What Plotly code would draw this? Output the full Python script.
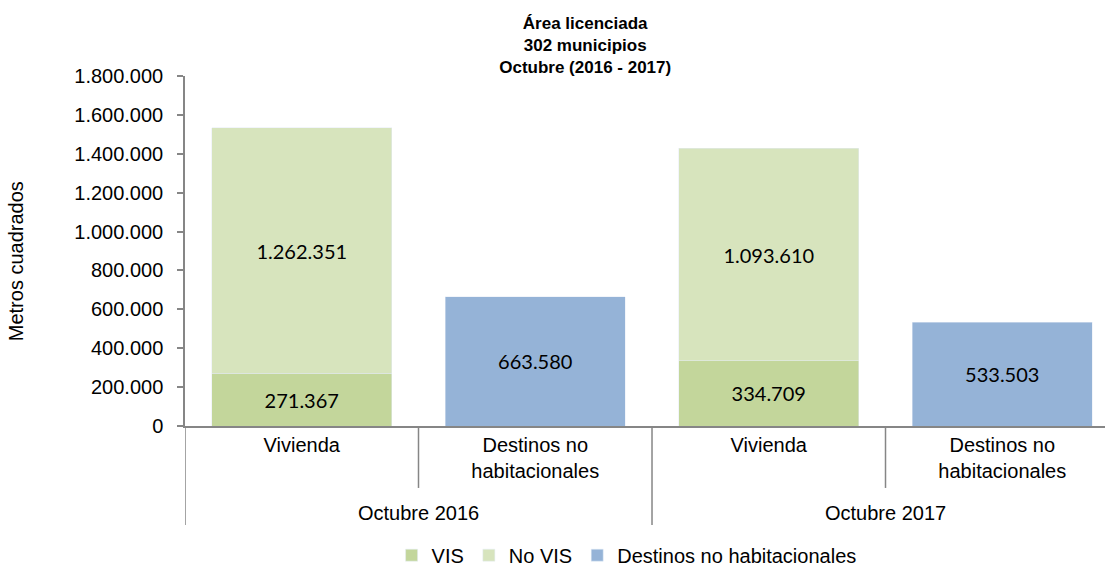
import plotly.graph_objects as go

# ---- data ----
groups = ["Octubre 2016", "Octubre 2017"]
categories = ["Vivienda", "Destinos no<br>habitacionales", "Vivienda", "Destinos no<br>habitacionales"]
vis_values = [271367, None, 334709, None]
novis_values = [1262351, None, 1093610, None]
destinos_values = [None, 663580, None, 533503]
y_ticks = [0, 200000, 400000, 600000, 800000, 1000000, 1200000, 1400000, 1600000, 1800000]

x_pos = list(range(len(categories)))

FONT = "Liberation Sans, Arial, sans-serif"
LABEL_FONT = "Lato, Open Sans, sans-serif"
GRAY = "#868686"

fig = go.Figure()
common = dict(width=0.77, textposition="inside", insidetextanchor="middle",
              textangle=0, texttemplate="%{y:,d}",
              textfont=dict(family=LABEL_FONT, size=20, color="#000000"))
fig.add_trace(go.Bar(name="VIS", x=x_pos, y=vis_values, marker_color="#C3D69B", **common))
fig.add_trace(go.Bar(name="No VIS", x=x_pos, y=novis_values, marker_color="#D7E4BD", **common))
fig.add_trace(go.Bar(name="Destinos no habitacionales", x=x_pos, y=destinos_values,
                     marker_color="#95B3D7", **common))

fig.update_layout(
    barmode="stack",
    width=1109, height=571,
    separators=",.",
    paper_bgcolor="white", plot_bgcolor="white",
    margin=dict(l=185, r=4, t=76, b=145, autoexpand=False),
    font=dict(family=FONT, size=20, color="#000000"),
    title=dict(text="<b>Área licenciada<br>302 municipios<br>Octubre (2016 - 2017)</b>",
               x=0.435, xref="paper", xanchor="center",
               y=0.949, yref="container", yanchor="middle",
               font=dict(family=FONT, size=17, color="#000000")),
    xaxis=dict(range=[-0.5, 3.44], tickvals=x_pos, ticktext=categories,
               showline=True, linecolor=GRAY, linewidth=1.5, ticks="",
               showgrid=False, zeroline=False, fixedrange=True, automargin=False,
               tickfont=dict(family=FONT, size=20, color="#000000")),
    yaxis=dict(range=[0, 1800000], tickvals=y_ticks, tickformat=",d",
               showline=True, linecolor=GRAY, linewidth=1.5,
               ticks="outside", ticklen=6, tickcolor=GRAY, tickwidth=1.5,
               ticklabelstandoff=10, automargin=False,
               showgrid=False, zeroline=False,
               tickfont=dict(family=FONT, size=20, color="#000000")),
    legend=dict(orientation="h", x=0.48, xanchor="center", y=-0.369, yanchor="middle",
                font=dict(family=FONT, size=20, color="#000000"),
                traceorder="normal", itemclick=False),
    showlegend=True,
)

# group labels
for i, g in enumerate(groups):
    fig.add_annotation(text=g, x=2 * i + 0.5, xref="x", y=-0.249, yref="paper",
                       xanchor="center", yanchor="middle", showarrow=False,
                       font=dict(family=FONT, size=20, color="#000000"))

# y axis title
fig.add_annotation(text="Metros cuadrados", textangle=-90, x=-0.184, xref="paper",
                   y=0.47, yref="paper", xanchor="center", yanchor="middle",
                   showarrow=False, font=dict(family=FONT, size=20, color="#000000"))

# category dividers
for b in [-0.5, 0.5, 1.5, 2.5]:
    long_line = (b == -0.5 or b == 1.5)
    fig.add_shape(type="line", x0=b, x1=b, xref="x", y0=0, y1=-0.283 if long_line else -0.177,
                  yref="paper", line=dict(color=GRAY, width=1.5))

fig.write_html("out.html", config={"displayModeBar": False},
               post_script="document.body.style.margin='0';")
